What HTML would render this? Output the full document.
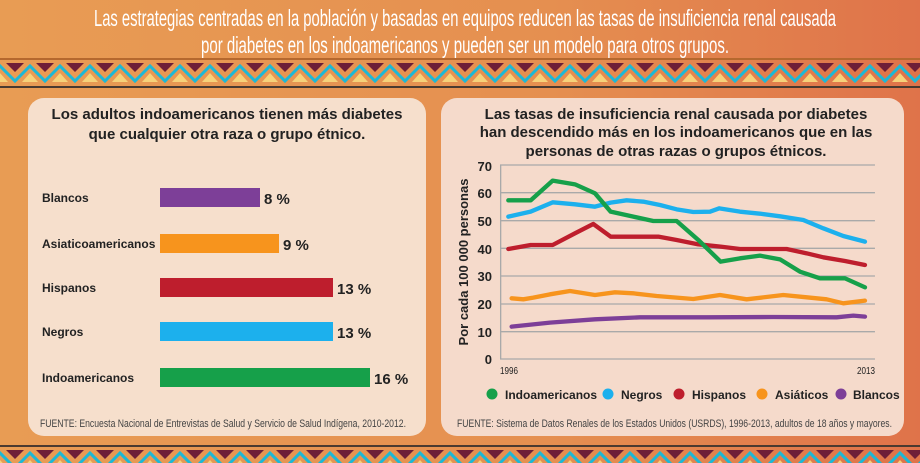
<!DOCTYPE html>
<html><head><meta charset="utf-8"><style>
html,body{margin:0;padding:0;width:920px;height:463px;overflow:hidden}
svg{display:block}
text{font-family:"Liberation Sans",sans-serif}
</style></head><body>
<svg width="920" height="463" viewBox="0 0 920 463" xmlns="http://www.w3.org/2000/svg">
<defs>
<linearGradient id="bg" x1="0" y1="0" x2="1" y2="0">
<stop offset="0" stop-color="#e89c54"/><stop offset="0.6" stop-color="#e58f50"/><stop offset="1" stop-color="#df734a"/></linearGradient>
<pattern id="zz" x="0" y="60" width="30" height="27" patternUnits="userSpaceOnUse">
<polygon points="6,3 24,3 15,12" fill="#6e1e38"/>
<polygon points="-8,22 8,22 0,13" fill="#f6d27a"/>
<polygon points="22,22 38,22 30,13" fill="#f6d27a"/>
<polyline points="-15,21 0,6 15,21 30,6 45,21" fill="none" stroke="#1cb8d6" stroke-width="3"/>
</pattern>
<pattern id="zz2" x="0" y="447" width="30" height="27" patternUnits="userSpaceOnUse">
<polygon points="6,3 24,3 15,12" fill="#6e1e38"/>
<polygon points="-8,22 8,22 0,13" fill="#f6d27a"/>
<polygon points="22,22 38,22 30,13" fill="#f6d27a"/>
<polyline points="-15,21 0,6 15,21 30,6 45,21" fill="none" stroke="#1cb8d6" stroke-width="3"/>
</pattern>
</defs>
<rect width="920" height="463" fill="url(#bg)"/>
<text x="465" y="26" font-size="23" fill="#fff" text-anchor="middle" textLength="742" lengthAdjust="spacingAndGlyphs">Las estrategias centradas en la población y basadas en equipos reducen las tasas de insuficiencia renal causada</text>
<text x="465" y="53" font-size="23" fill="#fff" text-anchor="middle" textLength="528" lengthAdjust="spacingAndGlyphs">por diabetes en los indoamericanos y pueden ser un modelo para otros grupos.</text>
<rect x="0" y="58" width="920" height="2" fill="#b5682e"/>
<rect x="0" y="60" width="920" height="26" fill="url(#zz)"/>
<rect x="0" y="86" width="920" height="2" fill="#4a3a30"/>
<rect x="0" y="445" width="920" height="2" fill="#4a3a30"/>
<rect x="0" y="447" width="920" height="16" fill="url(#zz2)"/>
<rect x="28" y="98" width="398" height="338" rx="16" fill="#f6dfcc"/>
<rect x="441" y="98" width="463" height="338" rx="16" fill="#f5dacb"/>
<text x="227" y="119" font-size="15" font-weight="bold" fill="#222" text-anchor="middle">Los adultos indoamericanos tienen más diabetes</text>
<text x="227" y="139" font-size="15" font-weight="bold" fill="#222" text-anchor="middle">que cualquier otra raza o grupo étnico.</text>
<g font-size="12" font-weight="bold" fill="#222">
<text x="42" y="202">Blancos</text>
<text x="42" y="248">Asiaticoamericanos</text>
<text x="42" y="292">Hispanos</text>
<text x="42" y="336">Negros</text>
<text x="42" y="382">Indoamericanos</text>
</g>
<rect x="160" y="188" width="100" height="19" fill="#7d3f98"/>
<rect x="160" y="234" width="119" height="19" fill="#f7941d"/>
<rect x="160" y="278" width="173" height="19" fill="#be1e2d"/>
<rect x="160" y="322" width="173" height="19" fill="#1cb0ed"/>
<rect x="160" y="368" width="210" height="19" fill="#16a04a"/>
<g font-size="15" font-weight="bold" fill="#222">
<text x="264" y="204">8 %</text>
<text x="283" y="250">9 %</text>
<text x="337" y="294">13 %</text>
<text x="337" y="338">13 %</text>
<text x="374" y="384">16 %</text>
</g>
<text x="40" y="427" font-size="11" fill="#444" textLength="366" lengthAdjust="spacingAndGlyphs">FUENTE: Encuesta Nacional de Entrevistas de Salud y Servicio de Salud Indígena, 2010-2012.</text>
<g font-size="15" font-weight="bold" fill="#222" text-anchor="middle">
<text x="676" y="119">Las tasas de insuficiencia renal causada por diabetes</text>
<text x="676" y="137">han descendido más en los indoamericanos que en las</text>
<text x="676" y="156">personas de otras razas o grupos étnicos.</text>
</g>
<g transform="translate(440,150) scale(0.3333)">
<g stroke="#a9a9a9" stroke-width="4">
<line x1="180" y1="45" x2="1305" y2="45"/><line x1="180" y1="128" x2="1305" y2="128"/>
<line x1="180" y1="212" x2="1305" y2="212"/><line x1="180" y1="295" x2="1305" y2="295"/>
<line x1="180" y1="378" x2="1305" y2="378"/><line x1="180" y1="462" x2="1305" y2="462"/>
<line x1="180" y1="545" x2="1305" y2="545"/><line x1="180" y1="627" x2="1305" y2="627"/>
<line x1="182" y1="45" x2="182" y2="627"/>
</g>
<g fill="none" stroke-width="13" stroke-linejoin="round" stroke-linecap="round">
<polyline stroke="#7d3f98" points="215,530 330,518 465,508 600,502 800,502 1000,501 1190,502 1240,497 1275,500"/>
<polyline stroke="#f7941d" points="215,445 250,448 280,443 330,433 390,423 465,435 525,427 580,430 650,438 760,447 840,435 920,448 1030,435 1100,442 1160,448 1210,460 1275,452"/>
<polyline stroke="#be1e2d" points="205,297 272,285 338,285 405,250 460,222 512,260 580,260 655,260 710,270 775,283 842,290 900,297 960,297 1040,297 1100,310 1150,322 1215,333 1275,345"/>
<polyline stroke="#1cb0ed" points="205,200 272,185 338,157 405,163 465,170 512,158 560,151 610,155 660,165 710,178 760,186 810,185 838,175 900,185 960,191 1020,199 1090,210 1150,235 1210,258 1275,275"/>
<polyline stroke="#16a04a" points="205,151 272,151 338,92 405,103 465,130 512,185 580,200 640,213 710,213 775,270 842,335 900,325 960,317 1020,328 1080,365 1140,385 1215,385 1275,412"/>
</g>
</g>
<g font-size="13" font-weight="bold" fill="#222" text-anchor="end">
<text x="492" y="171">70</text><text x="492" y="198">60</text><text x="492" y="226">50</text>
<text x="492" y="254">40</text><text x="492" y="281">30</text><text x="492" y="309">20</text>
<text x="492" y="337">10</text><text x="492" y="364">0</text>
</g>
<text transform="translate(468,262) rotate(-90)" font-size="13" font-weight="bold" fill="#222" text-anchor="middle">Por cada 100 000 personas</text>
<text x="500" y="374" font-size="10" fill="#222" textLength="18" lengthAdjust="spacingAndGlyphs">1996</text>
<text x="857" y="374" font-size="10" fill="#222" textLength="18" lengthAdjust="spacingAndGlyphs">2013</text>
<g font-size="12" font-weight="bold" fill="#222">
<circle cx="492" cy="394" r="5.5" fill="#16a04a"/><text x="505" y="399">Indoamericanos</text>
<circle cx="608" cy="394" r="5.5" fill="#1cb0ed"/><text x="621" y="399">Negros</text>
<circle cx="679" cy="394" r="5.5" fill="#be1e2d"/><text x="692" y="399">Hispanos</text>
<circle cx="762" cy="394" r="5.5" fill="#f7941d"/><text x="775" y="399">Asiáticos</text>
<circle cx="841" cy="394" r="5.5" fill="#7d3f98"/><text x="853" y="399">Blancos</text>
</g>
<text x="457" y="427" font-size="11" fill="#444" textLength="435" lengthAdjust="spacingAndGlyphs">FUENTE: Sistema de Datos Renales de los Estados Unidos (USRDS), 1996-2013, adultos de 18 años y mayores.</text>
</svg>
</body></html>
